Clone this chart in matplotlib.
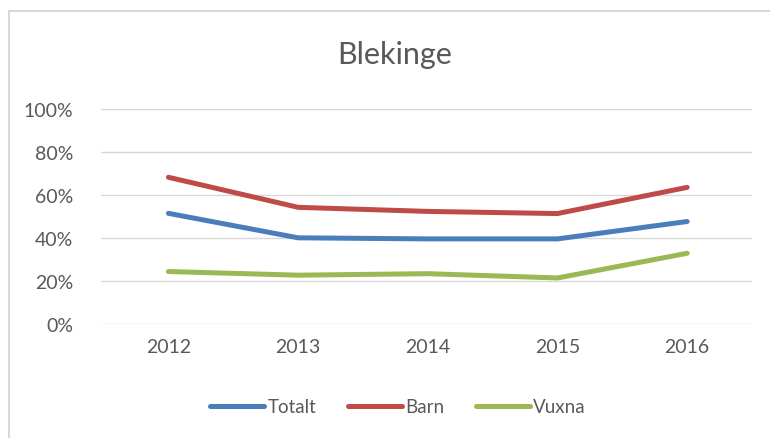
import matplotlib
matplotlib.use("Agg")
import matplotlib.pyplot as plt
from matplotlib.patches import Rectangle

years = ["2012", "2013", "2014", "2015", "2016"]
totalt = [0.514, 0.400, 0.395, 0.395, 0.476]
barn = [0.682, 0.542, 0.523, 0.513, 0.635]
vuxna = [0.243, 0.226, 0.233, 0.213, 0.328]
yticks = [0, 0.2, 0.4, 0.6, 0.8, 1.0]
ylabels = ["0%", "20%", "40%", "60%", "80%", "100%"]

plt.rcParams['font.family'] = ['Lato', 'DejaVu Sans']
txt = '#595959'

fig = plt.figure(figsize=(7.7, 4.39), dpi=100)
fig.patches.append(Rectangle((9/770, -0.1), 1.1, 1 - 12/439 + 0.1, transform=fig.transFigure,
                             fill=False, edgecolor='#D9D9D9', linewidth=1.5))
ax = fig.add_axes([101/770, 1 - 324.7/439, (752 - 101)/770, (324.7 - 110)/439])
x = list(range(len(years)))
ax.plot(x, totalt, color='#4A7EBB', lw=3.6, label='Totalt', solid_capstyle='round')
ax.plot(x, barn, color='#BE4B48', lw=3.6, label='Barn', solid_capstyle='round')
ax.plot(x, vuxna, color='#98B954', lw=3.6, label='Vuxna', solid_capstyle='round')
ax.set_xlim(-0.52, 4.5)
ax.set_ylim(0, 1)
ax.set_yticks(yticks)
ax.set_yticklabels(ylabels)
ax.set_xticks(x)
ax.set_xticklabels(years)
ax.grid(axis='y', color='#D9D9D9', lw=1)
ax.set_axisbelow(True)
for s in ax.spines.values():
    s.set_visible(False)
ax.tick_params(length=0, labelsize=14, colors=txt, pad=10)
ax.tick_params(axis='y', pad=20)
fig.text(395/770, 1 - 55/439, "Blekinge", ha='center', va='center', fontsize=22, color=txt)
leg = fig.legend(loc='center', bbox_to_anchor=(398/770, 1 - 408/439), ncol=3, frameon=False,
                 fontsize=13.5, handlelength=2.9, columnspacing=1.7, handletextpad=0.15)
for t in leg.get_texts():
    t.set_color(txt)
fig.savefig("out.png", dpi=100)
